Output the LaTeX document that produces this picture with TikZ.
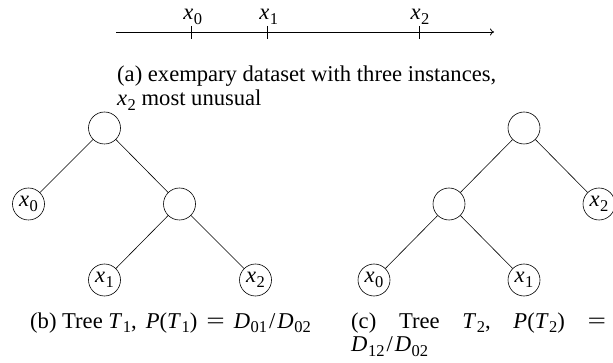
\documentclass[tikz,border=0pt]{standalone}
\usepackage{fontspec}
\setmainfont{Liberation Serif}
\usetikzlibrary{arrows.meta}
\newcommand\subs[1]{\raisebox{-0.2em}{\fontsize{16.5}{16.5}\selectfont #1}}
\newcommand\vv[2]{\textit{#1}\kern0.5pt\subs{#2}}
\newcommand\vx[1]{\vv{x}{#1}}
\newcommand\eqs{\hspace{0.4em}\scalebox{1.45}[1]{=}\hspace{0.4em}}
\begin{document}
\begin{tikzpicture}[x=1pt,y=-1pt,
  every node/.style={font=\fontsize{22.6}{24}\selectfont},
  tnode/.style={draw,circle,minimum size=32pt,inner sep=0.3pt,line width=0.6pt},
  edge/.style={line width=0.6pt},
  tick/.style={line width=0.8pt}]
\useasboundingbox (0,0) rectangle (613,363);
% axis
\coordinate (a0) at (116,32);
\coordinate (a1) at (494,32);
\draw[line width=0.8pt,-{To[length=4pt,width=7pt]}] (a0) -- (a1);
\foreach \n/\px in {0/191.7,1/267.7,2/419}{
  \coordinate (t\n) at (\px,32);
  \draw[tick] (\px,26) -- (\px,39);
  \node[anchor=base,inner sep=0pt] (l\n) at (\px+1,20) {\vx{\n}};
}
% caption a
\node[anchor=base west,inner sep=0pt] (ca1) at (117,82) {(a) exempary dataset with three instances,};
\node[anchor=base west,inner sep=0pt] (ca2) at (117,106) {\vx{2} most unusual};
% tree b
\node[tnode] (br) at (104.5,128) {};
\node[tnode] (bx0) at (28.5,204) {\vx{0}};
\node[tnode] (bm) at (179.5,204) {};
\node[tnode] (bx1) at (104.5,280) {\vx{1}};
\node[tnode] (bx2) at (255.5,280) {\vx{2}};
\draw[edge] (br) -- (bx0);
\draw[edge] (br) -- (bm);
\draw[edge] (bm) -- (bx1);
\draw[edge] (bm) -- (bx2);
% tree c
\node[tnode] (cr) at (524,128) {};
\node[tnode] (cm) at (449,204) {};
\node[tnode] (cx2) at (599,204) {\vx{2}};
\node[tnode] (cx0) at (374,280) {\vx{0}};
\node[tnode] (cx1) at (524,280) {\vx{1}};
\draw[edge] (cr) -- (cm);
\draw[edge] (cr) -- (cx2);
\draw[edge] (cm) -- (cx0);
\draw[edge] (cm) -- (cx1);
% captions
\node[anchor=base west,inner sep=0pt] (cb) at (30,328) {(b) Tree \vv{T}{1},\hspace{0.15em} \textit{P}(\vv{T}{1})\eqs\vv{D}{01}\kern2pt/\kern2pt\vv{D}{02}};
\node[anchor=base west,inner sep=0pt] (cc1) at (351,328) {\hbox to 255pt{(c)\hfill Tree\hfill \vv{T}{2},\hfill \textit{P}(\vv{T}{2})\hfill \scalebox{1.45}[1]{=}}};
\node[anchor=base west,inner sep=0pt] (cc2) at (351,352) {\vv{D}{12}\kern2pt/\kern2pt\vv{D}{02}};
\end{tikzpicture}
\end{document}
